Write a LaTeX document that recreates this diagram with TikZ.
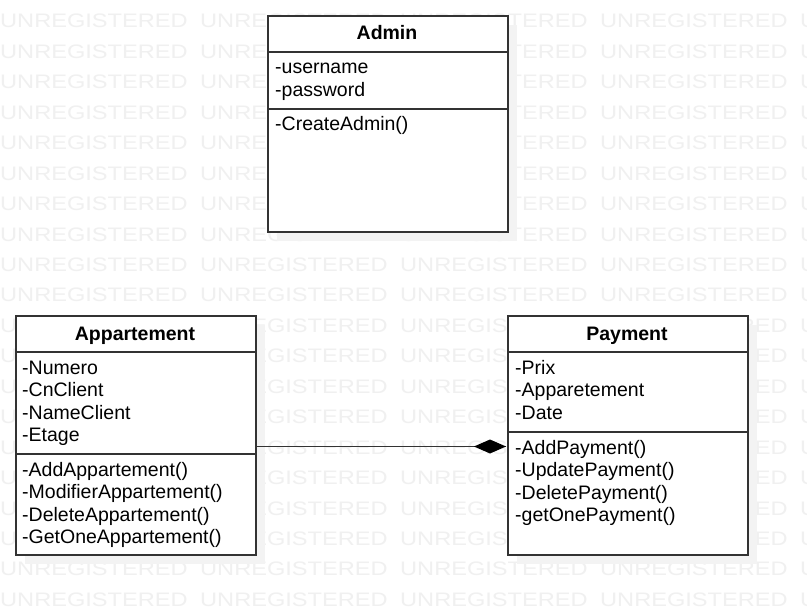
\documentclass[tikz,border=0pt]{standalone}
\usepackage{fontspec}
\setmainfont{Liberation Sans}
\newfontfamily\wmfont[FakeStretch=1.21]{Liberation Sans}
\usetikzlibrary{arrows.meta,shadows}
\definecolor{wm}{RGB}{240,240,240}
\definecolor{edge}{RGB}{51,51,51}
\definecolor{shade}{RGB}{243,243,243}
\begin{document}
\begin{tikzpicture}[x=1pt,y=-1pt,
  cls/.style={draw=edge,line width=2pt,fill=white,inner sep=0pt,anchor=north west,
    minimum width=240pt,
    drop shadow={fill=shade,opacity=1,shadow xshift=9pt,shadow yshift=-9pt}},
  sep/.style={draw=edge,line width=1.5pt},
  txt/.style={anchor=base west,inner sep=0pt,font=\fontsize{19.5}{22.6}\selectfont},
  ttl/.style={anchor=base,inner sep=0pt,font=\fontsize{19.5}{22.6}\selectfont\bfseries},
  wmt/.style={anchor=base west,inner sep=0pt,text=wm,font=\wmfont\fontsize{19.5}{22}\selectfont}]
\fill[white] (0,0) rectangle (807,615);
\useasboundingbox (0,0) rectangle (807,615);
% watermark
\foreach \r in {0,...,19}{
  \foreach \c in {0,...,4}{
    \node[wmt] (w\r c\c) at ({200*\c},{28+30.44*\r}) {UNREGISTERED};
  }
}
% class boxes
\node[cls,minimum height=216pt] (admin) at (267,15) {};
\node[cls,minimum height=239pt] (app) at (15,315) {};
\node[cls,minimum height=239pt] (pay) at (507,315) {};
% separators
\draw[sep] ([yshift=-37pt]admin.north west) -- ([yshift=-37pt]admin.north east);
\draw[sep] ([yshift=-94pt]admin.north west) -- ([yshift=-94pt]admin.north east);
\draw[sep] ([yshift=-37pt]app.north west) -- ([yshift=-37pt]app.north east);
\draw[sep] ([yshift=-139pt]app.north west) -- ([yshift=-139pt]app.north east);
\draw[sep] ([yshift=-37pt]pay.north west) -- ([yshift=-37pt]pay.north east);
\draw[sep] ([yshift=-117pt]pay.north west) -- ([yshift=-117pt]pay.north east);
% Admin texts
\node[ttl] (adminT) at (387,40) {Admin};
\node[txt] (adminA1) at (275,74) {-username};
\node[txt] (adminA2) at (275,96.6) {-password};
\node[txt] (adminM1) at (275,131) {-CreateAdmin()};
% Appartement texts
\node[ttl] (appT) at (135,340) {Appartement};
\node[txt] (appA1) at (22,374) {-Numero};
\node[txt] (appA2) at (22,396.6) {-CnClient};
\node[txt] (appA3) at (22,419.2) {-NameClient};
\node[txt] (appA4) at (22,441.8) {-Etage};
\node[txt] (appM1) at (22,476) {-AddAppartement()};
\node[txt] (appM2) at (22,498.6) {-ModifierAppartement()};
\node[txt] (appM3) at (22,521.2) {-DeleteAppartement()};
\node[txt] (appM4) at (22,543.8) {-GetOneAppartement()};
% Payment texts
\node[ttl] (payT) at (627,340) {Payment};
\node[txt] (payA1) at (515,374) {-Prix};
\node[txt] (payA2) at (515,396.6) {-Apparetement};
\node[txt] (payA3) at (515,419.2) {-Date};
\node[txt] (payM1) at (515,454) {-AddPayment()};
\node[txt] (payM2) at (515,476.6) {-UpdatePayment()};
\node[txt] (payM3) at (515,499.2) {-DeletePayment()};
\node[txt] (payM4) at (515,521.8) {-getOnePayment()};
% composition
\coordinate (cy) at (0,446.5);
\coordinate (dtip) at ([xshift=-1pt]pay.west |- cy);
\draw[edge,line width=1.5pt] (app.east |- cy) -- (dtip);
\fill[black] (dtip) -- ++(-16,-7) -- ++(-16,7) -- ++(16,7) -- cycle;
\end{tikzpicture}
\end{document}
